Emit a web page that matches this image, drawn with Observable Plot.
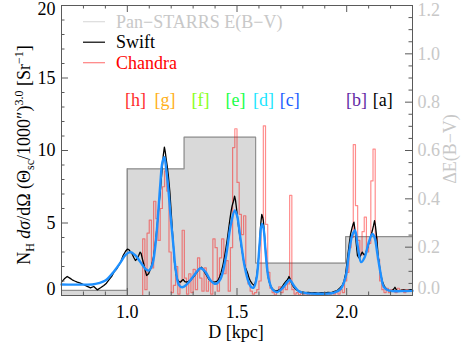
<!DOCTYPE html>
<html><head><meta charset="utf-8">
<script src="https://cdn.jsdelivr.net/npm/d3@7"></script>
<script src="https://cdn.jsdelivr.net/npm/@observablehq/plot@0.6"></script>
<style>body{margin:0;background:#fff} svg{display:block}</style>
</head><body><div id="chart"></div>
<script>
// ---- data ----
const swiftX = [0.700,0.713,0.726,0.738,0.749,0.760,0.772,0.786,0.800,0.815,0.832,0.847,0.863,0.878,0.893,0.905,0.916,0.928,0.939,0.950,0.961,0.972,0.981,0.992,1.000,1.007,1.015,1.022,1.030,1.037,1.045,1.052,1.058,1.063,1.069,1.075,1.082,1.088,1.097,1.106,1.113,1.121,1.127,1.133,1.139,1.144,1.150,1.155,1.160,1.164,1.169,1.173,1.177,1.182,1.187,1.194,1.200,1.204,1.208,1.212,1.215,1.221,1.227,1.235,1.243,1.250,1.255,1.262,1.270,1.279,1.288,1.297,1.307,1.317,1.326,1.333,1.338,1.345,1.351,1.357,1.365,1.372,1.383,1.395,1.405,1.413,1.421,1.428,1.436,1.443,1.450,1.456,1.462,1.468,1.473,1.478,1.484,1.489,1.493,1.498,1.503,1.508,1.514,1.519,1.525,1.531,1.539,1.547,1.555,1.562,1.570,1.577,1.583,1.589,1.595,1.600,1.604,1.607,1.610,1.613,1.617,1.620,1.624,1.627,1.631,1.635,1.640,1.645,1.652,1.661,1.670,1.680,1.690,1.699,1.707,1.714,1.722,1.729,1.734,1.737,1.742,1.747,1.753,1.759,1.770,1.782,1.795,1.810,1.825,1.840,1.855,1.870,1.885,1.900,1.915,1.930,1.945,1.957,1.968,1.980,1.988,1.995,2.000,2.006,2.012,2.018,2.025,2.030,2.033,2.038,2.044,2.049,2.055,2.060,2.066,2.071,2.077,2.082,2.088,2.094,2.100,2.106,2.112,2.117,2.122,2.127,2.131,2.135,2.140,2.144,2.150,2.155,2.162,2.170,2.178,2.185,2.195,2.208,2.215,2.220,2.226,2.231,2.245,2.261,2.275,2.290,2.300];
const swiftY = [0.92,1.15,1.31,1.2,1.08,1.0,0.92,0.85,0.76,0.65,0.53,0.62,0.39,0.53,0.69,0.85,1.08,1.3,1.61,1.8,2.07,2.4,2.76,3.05,3.2,3.17,3.0,2.87,2.6,2.41,2.55,2.76,2.99,2.9,2.5,2.18,1.7,1.38,1.5,1.84,2.2,2.76,3.5,4.37,5.3,6.2,7.1,8.05,8.9,9.66,10.23,9.9,9.43,8.9,8.28,7.13,5.75,4.8,3.91,3.0,2.3,1.6,1.15,0.95,0.92,1.05,1.1,0.95,0.92,0.98,1.03,1.2,1.38,1.6,1.79,1.9,1.95,1.8,1.65,1.49,1.3,1.1,0.98,0.92,0.95,1.03,1.3,1.61,2.1,2.64,3.3,3.91,4.6,5.29,5.8,6.2,6.5,6.85,6.6,5.98,5.3,4.6,4.0,3.45,2.9,2.3,1.9,1.61,1.2,0.97,0.8,0.7,0.85,1.26,2.0,2.87,3.8,4.71,5.2,5.59,5.4,5.17,4.5,3.79,3.0,2.18,1.5,1.03,0.7,0.46,0.35,0.3,0.38,0.46,0.62,0.8,0.95,1.08,1.2,1.31,1.15,0.92,0.72,0.57,0.4,0.3,0.25,0.2,0.22,0.18,0.2,0.17,0.2,0.18,0.22,0.2,0.28,0.34,0.5,0.69,1.0,1.49,2.1,2.87,3.6,4.25,4.7,4.95,5.06,4.48,3.5,2.76,2.6,2.64,2.85,2.99,2.85,2.76,3.0,3.22,3.55,3.91,4.2,4.48,4.8,5.17,4.8,4.25,3.4,2.64,2.0,1.49,1.0,0.69,0.5,0.39,0.36,0.34,0.45,0.57,0.4,0.3,0.35,0.39,0.33,0.4,0.39];

const modelX = [0.700,0.750,0.800,0.840,0.870,0.900,0.940,0.970,0.992,1.014,1.037,1.060,1.082,1.097,1.113,1.128,1.140,1.150,1.160,1.169,1.177,1.187,1.197,1.210,1.220,1.235,1.250,1.273,1.304,1.334,1.357,1.380,1.403,1.425,1.448,1.471,1.490,1.500,1.516,1.534,1.553,1.567,1.577,1.590,1.602,1.613,1.620,1.631,1.643,1.660,1.680,1.704,1.729,1.740,1.759,1.782,1.820,1.880,1.940,1.973,1.995,2.010,2.025,2.038,2.051,2.066,2.082,2.101,2.117,2.127,2.140,2.155,2.170,2.193,2.250,2.300];
const modelY = [0.76,0.75,0.75,0.76,0.85,1.03,1.68,2.3,2.8,2.99,2.76,2.3,1.84,1.72,2.07,3.45,5.52,7.59,9.2,9.54,8.74,7.36,5.52,3.45,1.84,0.74,0.57,0.8,1.38,1.88,1.61,1.03,0.8,1.15,2.53,4.83,5.86,5.52,3.91,2.07,0.92,0.55,0.57,1.26,3.33,4.94,4.71,2.87,1.26,0.46,0.23,0.46,0.92,1.08,0.69,0.3,0.15,0.12,0.18,0.46,1.26,2.87,4.14,4.48,3.33,2.3,2.64,3.68,4.25,4.02,2.87,1.49,0.57,0.34,0.3,0.32];

// Chandra histogram: 0.01 kpc bins starting at 1.06 (zero below)
const chandraStart = 1.06, chandraBin = 0.01;
const chandraY = [0,3.9,0.4,4.3,5.2,1.9,6.5,5.3,3.8,6.0,7.5,8.6,7.2,3.0,0.2,0.7,2.0,0.1,1.0,4.5,1.2,0.1,1.5,0.2,1.8,0.4,2.6,1.2,0.3,1.9,0.3,1.0,0.1,3.9,3.3,0.3,2.6,3.9,1.5,2.4,0.3,3.3,10.2,11.5,7.8,5.6,4.2,5.5,1.5,0.8,0.3,0.1,0.2,0.4,1.0,4.7,11.7,4.9,1.6,0.5,0.2,0.05,0.3,0.6,0.2,0.6,0.4,0.8,6.9,0.4,0.1,0.2,0.05,0.15,0.1,0.2,0.05,0.15,0.1,0.2,0.05,0.1,0.2,0.1,0.05,0.15,0.1,0.2,0.1,0.3,0.1,0.4,0.2,1.0,1.6,3.3,4.0,10.4,6.2,3.8,2.8,4.4,5.4,3.0,3.6,7.9,10.1,4.0,2.5,1.0,0.4,0.2,0.5,0.2,0.4,0.3,0.2,0.5,0.3,0.4,0.2,0.4,0.3,0.4];

// Pan-STARRS E(B-V) step (right axis units)
const panEdges = [0.7, 1.0, 1.2589, 1.5849, 1.9953, 2.3];
const panEBV = [0.021, 0.524, 0.655, 0.134, 0.244];

const regionLabels = ["[h]","[g]","[f]","[e]","[d]","[c]","[b]","[a]"];
const regionX = [1.037,1.172,1.334,1.493,1.621,1.740,2.045,2.164];
const regionColors = ["#ff2a2a","#ffb01a","#88ff1a","#1aff4a","#1ae6ff","#1a5cff","#6428a4","#000000"];

const xMajor = [1.0,1.5,2.0];
const yMajor = [0,5,10,15,20];
const ebvMajor = [0.0,0.2,0.4,0.6,0.8,1.0,1.2];
const legendNames = ["Pan\u2212STARRS E(B\u2212V)","Swift","Chandra"];
const legendColors = ["#dcdcdc","#000000","#ff8080"];
const legendTextColors = ["#c8c8c8","#000000","#ff0000"];

// ---- layout ----
const W = 467, H = 347, mL = 61, mR = 55, mT = 5, mB = 52;
const xDom = [0.7, 2.3], yDom = [0, 20];
const EBV = 0.06; // 1 left unit = 0.06 E(B-V)
const pxY = (H - mT - mB) / (yDom[1] - yDom[0]);
const pxX = (W - mL - mR) / (xDom[1] - xDom[0]);
const majLen = 7, minLen = 3.5;
const axisColor = "#5a5a5a";
const FONT = "Liberation Serif";

const swift = swiftX.map((x,i)=>({x, y: swiftY[i]}));
const model = modelX.map((x,i)=>({x, y: modelY[i]}));
const chandra = [{x: xDom[0], y: 0}];
chandraY.forEach((y,i)=>chandra.push({x: +(chandraStart + i*chandraBin).toFixed(3), y}));
chandra.push({x: xDom[1], y: chandraY[chandraY.length-1]});
const pan = panEBV.map((v,i)=>({x: panEdges[i], y: v/EBV}));
pan.push({x: panEdges[panEdges.length-1], y: panEBV[panEBV.length-1]/EBV});

const round = v => Math.round(v*1000)/1000;
const xMinor = d3.range(7, 24).map(v=>round(v/10)).filter(v=>!xMajor.includes(v));
const yMinor = d3.range(0, 21).filter(v=>!yMajor.includes(v));
const ebvMinor = d3.range(0, 25).map(v=>round(v*0.05)).filter(v=>!ebvMajor.some(m=>Math.abs(m-v)<1e-6));

const ticksX = (vals, len) => [
  Plot.ruleX(vals, {y1: yDom[0], y2: yDom[0] + len/pxY, stroke: axisColor}),
  Plot.ruleX(vals, {y1: yDom[1], y2: yDom[1] - len/pxY, stroke: axisColor})
];

const regions = regionLabels.map((t,i)=>({t, x: regionX[i], c: regionColors[i]}));

const svg = Plot.plot({
  width: W, height: H,
  marginLeft: mL, marginRight: mR, marginTop: mT, marginBottom: mB,
  x: {domain: xDom},
  y: {domain: yDom},
  style: {fontFamily: FONT, fontSize: "18px", background: "#fff"},
  marks: [
    Plot.areaY(pan, {x: "x", y: "y", curve: "step-after", fill: "#d9d9d9"}),
    Plot.line(pan, {x: "x", y: "y", curve: "step-after", stroke: "#8f8f8f", strokeWidth: 1.2}),
    Plot.ruleX(panEdges.slice(1, 2), {y1: 0, y2: panEBV[1]/EBV, stroke: "#8f8f8f", strokeWidth: 1.2}),
    Plot.line(chandra, {x: "x", y: "y", curve: "step-after", stroke: "#ff0000", strokeOpacity: 0.45, strokeWidth: 1.2}),
    Plot.line(swift, {x: "x", y: "y", stroke: "#000", strokeWidth: 1.3}),
    Plot.line(model, {x: "x", y: "y", stroke: "#1e90ff", strokeWidth: 2.4, curve: "catmull-rom"}),
    Plot.frame({stroke: axisColor}),
    ...ticksX(xMajor, majLen), ...ticksX(xMinor, minLen),
    Plot.ruleY(yMajor, {x1: xDom[0], x2: xDom[0] + majLen/pxX, stroke: axisColor}),
    Plot.ruleY(yMinor, {x1: xDom[0], x2: xDom[0] + minLen/pxX, stroke: axisColor}),
    Plot.ruleY(ebvMajor.map(v=>v/EBV), {x1: xDom[1], x2: xDom[1] - majLen/pxX, stroke: axisColor}),
    Plot.ruleY(ebvMinor.map(v=>v/EBV), {x1: xDom[1], x2: xDom[1] - minLen/pxX, stroke: axisColor}),
    Plot.axisX({ticks: xMajor, tickSize: 0, tickPadding: 10, tickFormat: d => d.toFixed(1), label: null, fill: "#000"}),
    Plot.axisY({ticks: [5,10,15], tickSize: 0, tickPadding: 6, tickFormat: d => String(d), label: null, fill: "#000"}),
    Plot.axisY({ticks: [20], tickSize: 0, tickPadding: 6, dy: 4, tickFormat: d => String(d), label: null, fill: "#000"}),
    Plot.axisY({ticks: [0], tickSize: 0, tickPadding: 6, dy: -6, tickFormat: d => String(d), label: null, fill: "#000"}),
    Plot.axisY({anchor: "right", ticks: [0.2,0.4,0.6,0.8,1.0].map(v=>v/EBV), tickSize: 0, tickPadding: 5, tickFormat: d => (d*EBV).toFixed(1), label: null, fill: "#c8c8c8"}),
    Plot.axisY({anchor: "right", ticks: [1.2/EBV], tickSize: 0, tickPadding: 5, dy: 5, tickFormat: d => (d*EBV).toFixed(1), label: null, fill: "#c8c8c8"}),
    Plot.axisY({anchor: "right", ticks: [0], tickSize: 0, tickPadding: 5, dy: -7, tickFormat: d => (d*EBV).toFixed(1), label: null, fill: "#c8c8c8"}),
    Plot.text(regions, {x: "x", y: 13.45, text: "t", fill: "c", fontSize: 18})
  ]
});

const s = d3.select(svg);
// legend
legendNames.forEach((name, i) => {
  const cy = 21.7 + i*20.5;
  s.append("line").attr("x1", 83).attr("x2", 105).attr("y1", cy).attr("y2", cy)
    .attr("stroke", legendColors[i]).attr("stroke-width", 1.2);
  s.append("text").attr("x", 116).attr("y", cy + 6).attr("fill", legendTextColors[i])
    .attr("text-anchor", "start")
    .attr("font-size", 18).attr("font-family", FONT).text(name);
});
// x title
s.append("text").attr("x", 236).attr("y", 338).attr("text-anchor", "middle")
  .attr("font-size", 18).attr("font-family", FONT).attr("fill", "#000").text("D [kpc]");
// left y title
const yt = s.append("text").attr("transform", "translate(30,155) rotate(-90)")
  .attr("text-anchor", "middle").attr("font-size", 18).attr("font-family", FONT).attr("fill", "#000");
yt.append("tspan").text("N");
yt.append("tspan").attr("dy", 4).attr("font-size", 12).text("H");
yt.append("tspan").attr("dy", -4).text(" ");
yt.append("tspan").attr("font-style", "italic").text("d\u03c3");
yt.append("tspan").text("/d\u03a9 (\u0398");
yt.append("tspan").attr("dy", 4).attr("font-size", 12).text("sc");
yt.append("tspan").attr("dy", -4).text("/1000\u2033)");
yt.append("tspan").attr("dy", -7).attr("font-size", 12).text("3.0");
yt.append("tspan").attr("dy", 7).text(" [Sr");
yt.append("tspan").attr("dy", -7).attr("font-size", 12).text("\u22121");
yt.append("tspan").attr("dy", 7).text("]");
// right y title
s.append("text").attr("transform", "translate(456,149) rotate(-90)")
  .attr("text-anchor", "middle").attr("font-size", 18).attr("font-family", FONT)
  .attr("fill", "#c8c8c8").text("\u0394E(B\u2212V)");

document.getElementById("chart").appendChild(svg);
</script></body></html>
